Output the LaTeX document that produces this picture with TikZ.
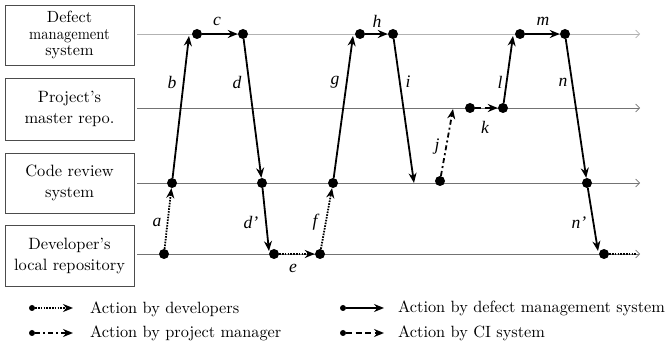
\documentclass[tikz,border=0pt]{standalone}
\usepackage{fontspec}
\IfFontExistsTF{lmroman10-regular.otf}{\setmainfont{lmroman10-regular.otf}}{}
\newfontfamily\lblserif{Liberation Serif}
\usetikzlibrary{arrows.meta}
\tikzset{
  sysbox/.style={draw=black!70, line width=0.8pt, minimum width=129pt, align=center, font=\fontsize{16.4}{21}\selectfont, inner sep=0pt},
  tline/.style={draw=black!55, line width=0.7pt, -{Straight Barb[length=4pt,width=8pt,line width=0.6pt]}},
  pt/.style={circle, fill=black, inner sep=0pt, minimum size=10pt},
  lpt/.style={circle, fill=black, inner sep=0pt, minimum size=6pt},
  act/.style={line width=1.8pt, -{Stealth[length=10pt,width=8pt]}},
  devact/.style={act, dash pattern=on 1.6pt off 1.2pt},
  pmact/.style={act, dash pattern=on 5pt off 3pt on 2pt off 3pt},
  ciact/.style={act, dash pattern=on 6pt off 3.5pt},
  lbl/.style={font=\fontsize{17.6}{20}\selectfont\lblserif\itshape, inner sep=0pt},
  legtxt/.style={font=\fontsize{16.3}{20}\selectfont, anchor=west, inner sep=0pt},
}
\begin{document}
\begin{tikzpicture}[x=1pt,y=-1pt]
\useasboundingbox (0,0) rectangle (667,347);
% boxes
\node[sysbox, minimum height=60pt, font=\fontsize{16.2}{16.5}\selectfont] (dms) at (69.5,35) {Defect\\\scalebox{0.9}[1]{management}\\system};
\node[sysbox, minimum height=62pt] (pmr) at (69.5,109) {Project’s\\master repo.};
\node[sysbox, minimum height=60pt] (crs) at (69.5,183) {Code review\\system};
\node[sysbox, minimum height=61pt] (dlr) at (69.5,255.5) {Developer’s\\local repository};
% timelines
\coordinate (l1s) at (137,34);  \coordinate (l1e) at (640,34);
\coordinate (l2s) at (137,108); \coordinate (l2e) at (640,108);
\coordinate (l3s) at (137,183); \coordinate (l3e) at (640,183);
\coordinate (l4s) at (137,254); \coordinate (l4e) at (640,254);
\draw[tline, draw=black!30] (l1s) -- (l1e);
\draw[tline] (l2s) -- (l2e);
\draw[tline] (l3s) -- (l3e);
\draw[tline] (l4s) -- (l4e);
% points
\node[pt] (pA) at (164,254) {};
\node[pt] (pB) at (172,183) {};
\node[pt] (pC) at (197,34) {};
\node[pt] (pD) at (243,34) {};
\node[pt] (pE) at (262,183) {};
\node[pt] (pF) at (274,254) {};
\node[pt] (pG) at (320,254) {};
\node[pt] (pH) at (333,183) {};
\node[pt] (pI) at (360,34) {};
\node[pt] (pJ) at (393,34) {};
\node[pt] (pK) at (440,181) {};
\node[pt] (pL) at (470,108) {};
\node[pt] (pM) at (503,108) {};
\node[pt] (pN) at (520,34) {};
\node[pt] (pO) at (565,34) {};
\node[pt] (pP) at (587,183) {};
\node[pt] (pQ) at (604,254) {};
% arrow tips that are not on dots
\coordinate (tb) at (189,36);
\coordinate (td2) at (269,251);
\coordinate (tg) at (353,36);
\coordinate (ti) at (414,183);
\coordinate (tj) at (453,109);
\coordinate (tl) at (513,36);
\coordinate (tn) at (598,251);
\coordinate (tq) at (636,254);
% actions
\draw[devact] (pA) -- (pB);
\draw[act] (pB) -- (tb);
\draw[act] (pC) -- (pD);
\draw[act] (pD) -- (pE);
\draw[act] (pE) -- (td2);
\draw[devact] (pF) -- (pG);
\draw[devact] (pG) -- (pH);
\draw[act] (pH) -- (tg);
\draw[act] (pI) -- (pJ);
\draw[act] (pJ) -- (ti);
\draw[pmact] (pK) -- (tj);
\draw[ciact] (pL) -- (pM);
\draw[act] (pM) -- (tl);
\draw[act] (pN) -- (pO);
\draw[act] (pO) -- (pP);
\draw[act] (pP) -- (tn);
\draw[line width=1.8pt, dash pattern=on 1.6pt off 1.2pt] (pQ) -- (tq);
% labels
\node[lbl] (la) at (157,222) {a};
\node[lbl] (lb) at (172,82) {b};
\node[lbl] (lc) at (217,21) {c};
\node[lbl] (ld) at (237,82) {d};
\node[lbl] (ld2) at (251,222) {d’};
\node[lbl] (le) at (293,268) {e};
\node[lbl] (lf) at (315,222) {f};
\node[lbl] (lg) at (335,82) {g};
\node[lbl] (lh) at (377,21) {h};
\node[lbl] (li) at (408,82) {i};
\node[lbl] (lj) at (437,147) {j};
\node[lbl] (lk) at (485,127) {k};
\node[lbl] (ll) at (500,82) {l};
\node[lbl] (lm) at (543,21) {m};
\node[lbl] (ln) at (563,82) {n};
\node[lbl] (ln2) at (579,223) {n’};
% legend
\node[lpt] (g1s) at (32,308) {}; \coordinate (g1e) at (73,308);
\node[lpt] (g2s) at (32,333) {}; \coordinate (g2e) at (73,333);
\node[lpt] (g3s) at (343,308) {}; \coordinate (g3e) at (384,308);
\node[lpt] (g4s) at (343,333) {}; \coordinate (g4e) at (384,333);
\draw[devact, line width=1.5pt] (g1s) -- (g1e);
\draw[pmact, line width=1.5pt] (g2s) -- (g2e);
\draw[act, line width=1.5pt] (g3s) -- (g3e);
\draw[ciact, line width=1.5pt] (g4s) -- (g4e);
\node[legtxt] (t1) at (90,309) {Action by developers};
\node[legtxt] (t2) at (90,333) {Action by project manager};
\node[legtxt] (t3) at (398,308) {Action by defect management system};
\node[legtxt] (t4) at (398,333) {Action by CI system};
\end{tikzpicture}
\end{document}
